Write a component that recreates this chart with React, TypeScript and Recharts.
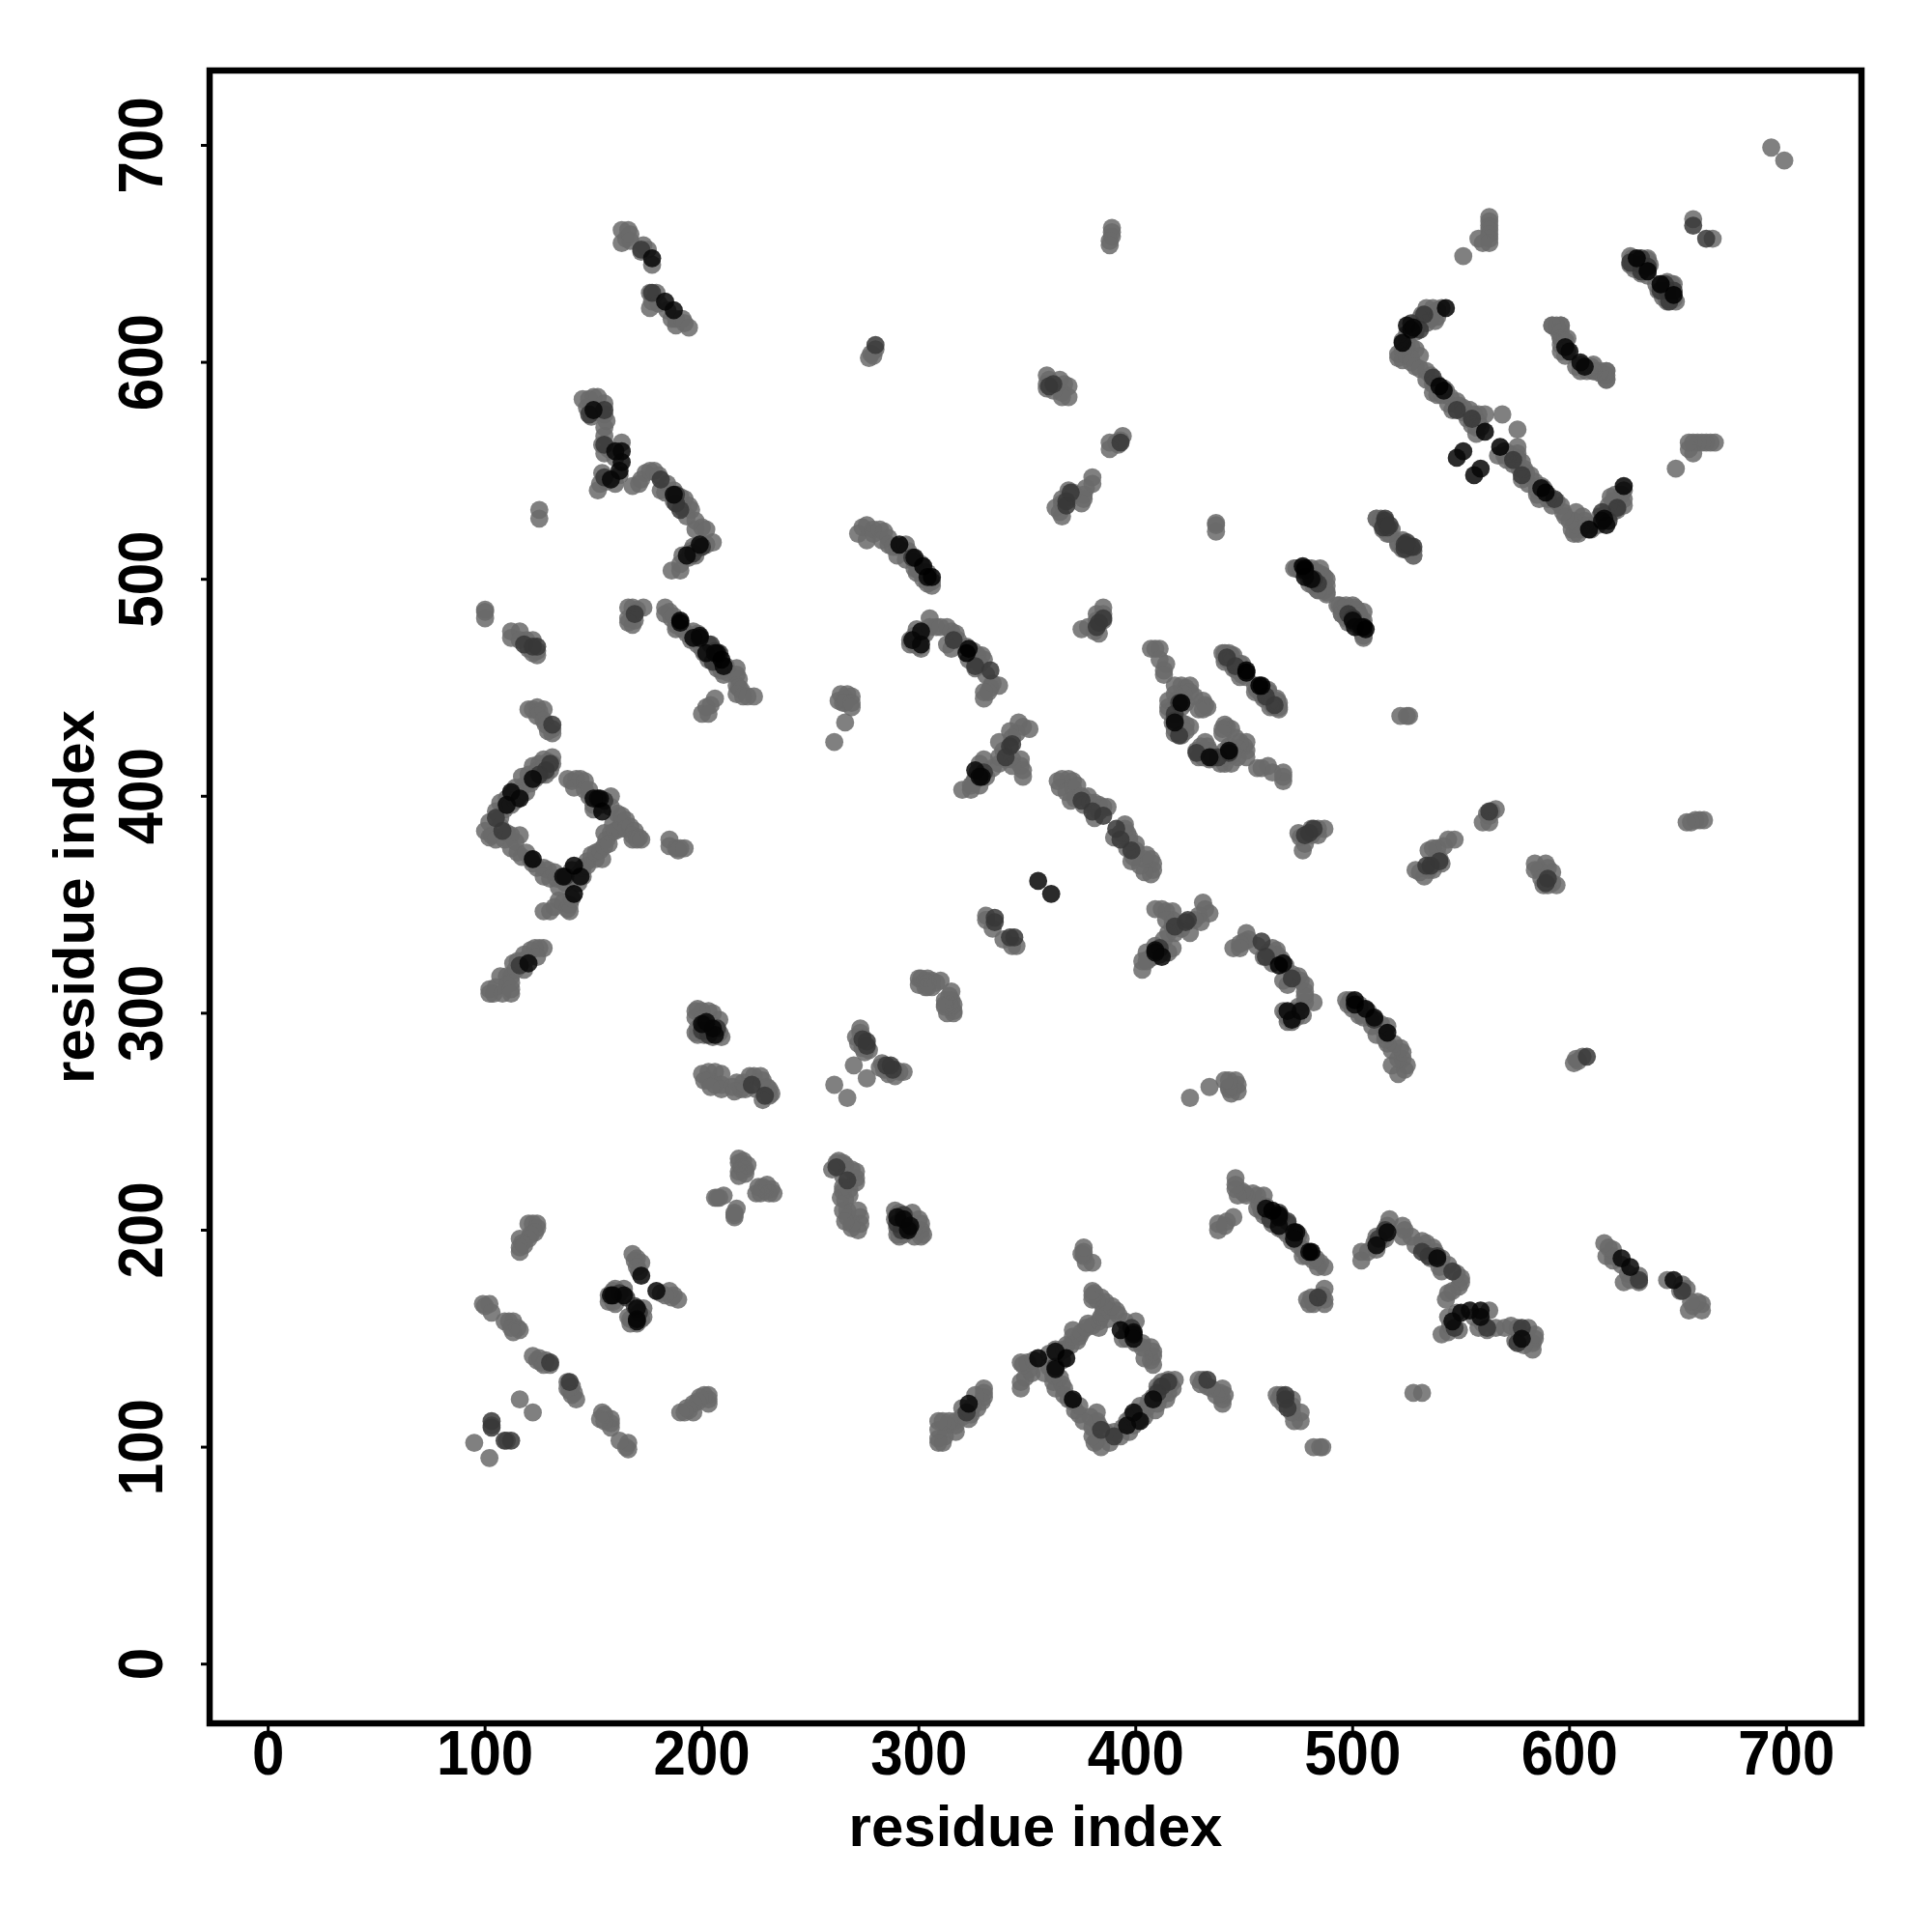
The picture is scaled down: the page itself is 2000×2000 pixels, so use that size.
import React from "react";
import { ScatterChart, Scatter, XAxis, YAxis, ReferenceArea } from "recharts";

type P = number[];
const xTicks = [0, 100, 200, 300, 400, 500, 600, 700];
const yTicks = [0, 100, 200, 300, 400, 500, 600, 700];
const axisTitle = "residue index";

// Contacts, as [i, j] with j > i. The map is symmetric, so each one is also drawn as [j, i].
// A contact listed more than once is a stronger one (drawn darker).
const c165_660: P[] = [[163,661],[166,661],[163,655],[165,657],[167,656],[167,659],[173,654],[172,651],[175,652],[177,648],[177,648],[177,648],[177,645]];
const c176_632: P[] = [[176,632],[179,632],[177,628],[176,625],[180,627],[183,628],[183,628],[183,628],[184,624],[187,624],[187,624],[187,624],[186,620],[188,620],[188,617],[191,620],[192,618],[194,616]];
const c280_608: P[] = [[280,608],[280,608],[280,606],[278,604],[277,602],[279,603]];
const c145_583: P[] = [[145,583],[148,583],[150,584],[152,584],[155,581],[147,579],[150,578],[149,575],[152,577],[155,576],[156,573],[155,570],[155,566],[154,562],[155,558],[157,560],[163,563],[163,559],[163,559],[163,559],[160,556],[163,554],[162,550],[162,548],[160,544],[155,547],[155,547],[153,544],[152,541],[156,545],[154,549]];
const c168_543: P[] = [[168,543],[171,544],[172,546],[174,549],[176,550],[178,550],[180,548],[181,546],[181,546],[181,541],[184,544],[183,540],[187,541],[188,539],[188,539],[187,536],[190,538],[192,537],[191,533],[194,534],[195,532],[193,529],[197,527],[197,523],[200,524],[202,523],[205,517],[202,516],[199,515],[196,515],[197,511],[194,510],[191,511],[190,507],[190,504],[186,504],[195,513]];
const c125_530: P[] = [[125,532],[125,528]];
const c100_484: P[] = [[100,486],[100,485],[100,482]];
const c112_474: P[] = [[112,476],[116,476],[112,473],[116,472],[119,472],[122,472],[120,468],[124,469],[124,469],[124,467],[124,465],[122,466]];
const c168_484: P[] = [[166,487],[168,487],[170,486],[173,487],[166,482],[169,484],[169,484],[169,481],[168,479],[166,480]];
const c183_487: P[] = [[183,487],[183,484],[185,485],[186,482],[187,483],[188,479],[190,481],[190,481],[190,481],[188,477],[191,477],[193,475],[196,476],[196,474],[198,475],[199,474],[199,474],[199,474],[195,472],[198,470],[200,468],[203,470],[204,470],[204,470],[206,467],[206,467],[208,466],[208,466],[201,466],[203,463],[205,462],[205,462],[207,462],[209,463],[209,463],[211,460],[207,459],[209,458],[210,456],[212,457],[216,459],[216,456],[217,454],[216,451],[217,450],[218,449],[216,447],[219,446],[221,446],[224,446],[206,445],[204,442],[202,441],[200,438],[203,438]];
const c120_440: P[] = [[120,440],[122,440],[124,441],[125,439],[127,440],[124,437],[127,435],[128,433],[131,433],[131,433],[131,431],[131,429],[129,430]];
const diamondUpperLeft: P[] = [[100,384],[102,388],[103,382],[105,393],[107,390],[107,397],[109,394],[110,399],[112,396],[112,401],[114,398],[114,404],[115,399],[116,401],[117,409],[118,405],[119,402],[120,410],[121,406],[122,414],[123,408],[124,412],[125,415],[126,410],[127,417],[127,413],[129,416],[131,418],[131,415],[130,412],[128,410]];
const diamondLowerLeft: P[] = [[102,381],[105,380],[107,386],[109,380],[110,383],[112,382],[114,379],[116,382],[112,376],[115,374],[117,372],[119,374],[121,371],[122,371],[122,369],[124,367],[127,367],[129,366],[127,363],[130,362],[133,362],[132,365],[134,358]];
const diamondLowerRight: P[] = [[127,347],[130,347],[132,349],[134,352],[136,351],[138,348],[139,347],[139,350],[140,353],[141,355],[141,355],[141,355],[137,360],[137,363],[137,363],[139,362],[140,366],[141,368],[141,368],[143,364],[143,360],[145,363],[145,367],[147,370],[147,368],[149,373],[151,371],[151,374],[153,375],[154,371],[155,377],[156,380],[155,383],[158,383],[157,378],[160,384],[159,387],[162,385]];
const diamondUpperRight: P[] = [[138,408],[140,407],[142,408],[144,408],[146,407],[141,404],[146,403],[148,400],[148,403],[150,396],[150,394],[152,399],[152,399],[152,399],[153,396],[154,393],[154,393],[155,398],[155,398],[158,400],[158,395],[161,392],[163,391],[163,388],[165,389],[165,385],[167,386],[168,382],[169,384],[171,381],[170,380],[168,380],[172,380]];
const c188_376: P[] = [[185,380],[185,377],[188,376],[190,376],[192,376],[189,375]];
const c115_320: P[] = [[127,330],[125,330],[123,330],[121,329],[124,326],[118,327],[120,323],[119,325],[115,324],[118,320],[113,323],[114,320],[110,317],[112,317],[107,317],[112,314],[110,313],[105,312],[102,311],[104,309],[108,309],[112,309],[102,309],[112,311]];
const c200_295: P[] = [[197,301],[198,302],[200,301],[203,301],[205,300],[197,298],[200,297],[201,295],[200,295],[201,295],[203,296],[208,297],[206,294],[198,293],[200,292],[200,292],[201,290],[203,290],[203,290],[205,289],[208,291],[209,289],[197,291],[198,290],[207,290],[204,295]];
const c215_267: P[] = [[200,272],[203,273],[206,273],[209,272],[201,269],[203,269],[206,267],[209,267],[209,265],[204,266],[214,266],[216,268],[218,265],[215,264],[220,265],[222,271],[224,271],[227,271],[223,267],[223,267],[225,265],[228,269],[230,266],[231,265],[232,263],[229,262],[229,262],[228,260],[231,262],[219,268]];
const c261_267: P[] = [[261,267]];
const c274_288: P[] = [[270,276],[273,293],[273,291],[271,289],[274,289],[272,286],[274,286],[276,284],[276,287],[276,287],[277,283],[275,282],[274,284],[276,285],[276,285]];
const c218_228: P[] = [[206,215],[208,215],[210,216],[207,215],[217,233],[219,232],[218,229],[219,229],[220,228],[217,227],[217,225],[220,226],[221,230],[217,231]];
const c120_198: P[] = [[120,203],[122,203],[124,203],[124,201],[123,199],[121,198],[120,196],[116,196],[117,194],[116,192],[116,190],[118,193]];
const c170_183: P[] = [[168,189],[169,186],[170,187],[172,185],[170,183],[172,179],[172,179],[172,179],[171,181]];
const c160_170: P[] = [[157,170],[157,167],[159,172],[160,173],[162,171],[162,171],[164,173],[165,169],[165,169],[160,166],[159,167]];
const c105_160: P[] = [[99,166],[100,165],[102,166],[103,162],[109,158],[111,158],[113,158],[115,155],[116,154],[113,153],[112,155]];
const c126_140: P[] = [[122,142],[125,141],[126,139],[128,140],[130,139],[130,139],[130,138],[124,140],[127,138]];
const c116_122: P[] = [[116,122]];
const c100_105: P[] = [[95,102],[103,112],[103,112],[103,110],[103,109],[103,109]];
const c389_658: P[] = [[389,662],[389,660],[389,658],[388,656],[388,654]];
const c362_590: P[] = [[359,594],[360,592],[359,590],[359,588],[361,589],[365,592],[367,590],[369,589],[366,586],[366,584],[369,584],[362,587]];
const c391_563: P[] = [[394,566],[393,564],[391,563],[392,562],[388,563],[388,560]];
const c372_538: P[] = [[380,547],[380,544],[377,542],[376,539],[376,537],[375,535],[371,540],[369,541],[370,538],[366,537],[366,535],[363,533],[365,531],[366,529],[368,534],[368,534]];
const c437_524: P[] = [[437,526],[437,525],[437,522]];
const c480_500: P[] = [[473,505],[476,505],[478,504],[478,504],[478,504],[481,505],[484,503],[480,501],[482,500],[482,500],[485,499],[487,501],[482,497],[484,495],[487,496],[488,494]];
const c500_482: P[] = [[493,488],[495,487],[497,488],[500,488],[502,486],[495,484],[498,484],[498,484],[500,482],[500,482],[498,480],[503,483],[505,485],[502,479],[505,479],[506,477],[506,477],[506,477],[505,474],[504,476]];
const c693_699: P[] = [[693,699]];
const c657_665: P[] = [[657,666],[657,663],[657,663]];
const c562_660: P[] = [[563,667],[563,665],[563,663],[563,661],[563,659],[563,657],[558,657],[560,655],[563,655],[551,649]];
const c635_642: P[] = [[628,649],[631,648],[633,648],[633,648],[636,648],[628,645],[631,644],[633,642],[633,642],[636,642],[637,645],[640,636],[642,636],[642,636],[645,636],[647,636],[647,634],[641,633],[643,630],[645,629],[648,629],[647,632],[645,633]];
const c600_605: P[] = [[592,617],[594,616],[596,617],[595,614],[596,611],[597,609],[599,611],[598,607],[600,605],[600,605],[600,605],[603,598],[605,599],[605,596],[608,596],[610,598],[611,596],[614,596],[617,596],[617,594],[617,592]];
const c530_615: P[] = [[543,625],[543,625],[541,625],[539,624],[537,625],[534,625],[539,621],[538,619],[536,620],[532,622],[531,620],[534,618],[530,617],[527,618],[527,618],[527,615],[529,614],[525,613],[525,610],[523,609],[523,610],[527,607],[525,607],[529,606],[523,605],[521,604],[521,602],[523,601],[525,603],[527,600],[531,603],[527,602]];
const c545_585: P[] = [[529,598],[531,597],[534,596],[534,592],[536,594],[537,590],[539,590],[540,589],[540,589],[542,588],[537,586],[539,585],[541,585],[543,587],[545,584],[544,581],[548,582],[546,578],[549,580],[551,579],[551,577],[554,578],[555,575],[553,574],[556,576],[558,576],[561,576],[555,571],[557,570],[558,572],[557,567],[561,568],[561,568],[561,568],[561,568],[559,570]];
const c569_576: P[] = [[569,576]];
const c549_557: P[] = [[548,556],[548,556],[548,556],[551,559],[551,559],[551,559]];
const c518_520: P[] = [[511,528],[513,528],[515,527],[515,527],[516,524],[514,523],[517,521],[523,518],[521,516],[524,516],[524,516],[528,515],[528,515],[526,513],[528,511]];
const c290_510: P[] = [[272,521],[274,524],[276,525],[279,523],[276,518],[279,521],[282,523],[284,522],[283,518],[286,519],[286,516],[288,515],[290,515],[290,511],[291,516],[291,516],[294,516],[295,513],[294,509],[297,510],[297,510],[298,508],[298,505],[301,507],[302,506],[302,506],[300,504],[303,503],[304,503],[306,501],[306,501],[306,499],[304,498],[306,497],[302,500],[299,503]];
const c315_465: P[] = [[296,472],[296,470],[298,474],[299,477],[298,470],[301,473],[300,469],[303,475],[301,468],[305,482],[305,478],[308,478],[310,478],[313,478],[315,476],[317,475],[318,472],[313,470],[315,468],[322,469],[322,466],[322,466],[323,463],[325,467],[327,465],[329,465],[330,463],[326,459],[328,461],[333,458],[333,458],[331,456],[334,452],[337,451],[333,450],[332,448],[330,445],[330,448]];
const c382_480: P[] = [[385,487],[385,484],[382,484],[382,481],[385,481],[375,477],[378,478],[381,476],[383,475],[382,478],[382,478]];
const c410_462: P[] = [[407,468],[409,468],[411,468],[411,463],[414,461],[413,458],[413,456]];
const c420_440: P[] = [[418,451],[421,451],[423,450],[425,451],[425,448],[427,446],[422,447],[420,445],[418,447],[415,444],[415,441],[415,439],[418,441],[419,444],[421,443],[421,441],[423,443],[431,444],[432,442],[433,441],[431,440],[429,440],[418,437],[417,434],[418,431],[418,429],[421,434],[423,433],[425,432],[423,430],[421,428],[420,443],[420,443],[418,435],[418,435],[420,428],[420,428]];
const c452_452: P[] = [[441,466],[443,466],[445,465],[442,463],[444,462],[446,459],[449,461],[447,458],[449,456],[451,458],[451,458],[451,458],[455,451],[457,451],[457,451],[455,448],[458,449],[461,448],[459,445],[462,444],[465,444],[464,441],[466,440],[462,441]];
const c375_400: P[] = [[364,407],[366,408],[369,408],[371,407],[365,404],[368,402],[371,404],[373,405],[370,398],[372,399],[375,400],[378,400],[376,396],[379,397],[381,397],[383,396],[383,393],[381,390],[385,395],[387,395],[385,391],[385,391]];
const c335_418: P[] = [[346,434],[348,432],[351,431],[345,429],[342,430],[343,427],[342,423],[342,423],[337,425],[339,421],[337,418],[340,417],[343,417],[347,417],[347,414],[348,412],[348,409],[343,414],[337,415],[334,413],[330,417],[328,415],[330,411],[330,411],[331,409],[327,411],[326,408],[325,406],[328,405],[320,403],[324,403],[324,405]];
const c355_361: P[] = [[355,361],[355,361],[355,361]];
const c333_343: P[] = [[331,345],[335,344],[335,344],[335,342],[335,342],[334,339],[331,343]];
const c304_314: P[] = [[300,316],[301,316],[300,313],[303,315],[304,316],[306,315],[308,314],[304,312],[306,312],[304,314],[303,312],[310,315]];
const c265_443: P[] = [[264,447],[267,447],[269,446],[263,444],[265,443],[266,443],[266,445],[269,441],[269,443],[266,434],[261,425]];

// Spots that read as near black and as mid grey in the reference.
const strongContacts: P[] = [[190,481],[199,473],[207,466],[209,463],[202,466],[196,473],[112,402],[110,396],[116,399],[122,408],[141,355],[136,363],[144,363],[141,368],[153,399],[150,399],[154,393],[122,371],[298,510],[302,506],[306,501],[291,516],[478,505],[478,501],[540,589],[561,568],[525,617],[543,625],[631,648],[642,636],[542,587],[528,616],[523,609],[506,477],[500,481],[322,466],[451,458],[457,451],[421,443],[418,434],[329,409],[326,412],[328,409],[323,468],[304,501],[301,470],[297,472],[301,476],[159,170],[164,170],[158,170],[205,293],[206,290],[202,296],[210,460],[206,466],[190,480],[199,516],[193,511],[160,559],[187,539],[158,546]];
const mediumContacts: P[] = [[155,578],[150,578],[148,576],[163,554],[162,550],[155,562],[177,632],[172,652],[190,532],[188,535],[200,515],[196,512],[118,470],[122,469],[105,390],[108,384],[128,412],[125,410],[130,415],[120,323],[116,322],[200,295],[203,292],[207,293],[274,288],[362,590],[360,589],[368,536],[370,540],[385,482],[383,480],[598,607],[533,622],[531,615],[537,593],[548,578],[555,574],[527,615],[442,464],[446,460],[418,438],[343,424],[340,418],[375,398],[380,393],[393,563],[326,460],[316,472],[636,644],[633,645],[514,524],[525,517],[628,646]];

const contacts: P[] = [
  c165_660, c176_632, c280_608, c145_583, c168_543, c125_530, c100_484, c112_474, c168_484, c183_487, c120_440,
  diamondUpperLeft, diamondLowerLeft, diamondLowerRight, diamondUpperRight, c188_376, c115_320, c200_295, c215_267,
  c261_267, c274_288, c218_228, c120_198, c170_183, c160_170, c105_160, c126_140, c116_122, c100_105, c389_658,
  c362_590, c391_563, c372_538, c437_524, c480_500, c500_482, c693_699, c657_665, c562_660, c635_642, c600_605,
  c530_615, c545_585, c569_576, c549_557, c518_520, c290_510, c315_465, c382_480, c410_462, c420_440, c452_452,
  c375_400, c335_418, c355_361, c333_343, c304_314, c265_443,
  mediumContacts, mediumContacts, strongContacts, strongContacts, strongContacts,
].flat();

const strength = new Map<string, number>();
contacts.forEach(([i, j]) => strength.set(`${i},${j}`, (strength.get(`${i},${j}`) || 0) + 1));
const table = [...strength.entries()]
  .flatMap(([key, n]) => {
    const [i, j] = key.split(",").map(Number);
    return [{ x: i, y: j, n }, { x: j, y: i, n }];
  })
  .sort((a, b) => a.n - b.n);

const FONT = "'Liberation Sans', Arial, sans-serif";
const xMin = -27, xMax = 734.6, yMin = -27.3, yMax = 734.5;
const grays = ["#6a6a6a", "#6a6a6a", "#373737", "#060606", "#000000"];

const Dot = (p: any) => <circle cx={p.cx} cy={p.cy} r={9.4} fill={grays[Math.min(p.payload.n, 4)]} fillOpacity={0.85} />;

const XTick = ({ x, y, payload }: any) => (
  <text transform={`translate(${x},${y + 42}) scale(1,1.08)`} textAnchor="middle" fontFamily={FONT} fontWeight={700} fontSize={60} fill="#000">{payload.value}</text>
);
const YTick = ({ x, y, payload }: any) => (
  <text transform={`translate(${x - 38},${y}) rotate(-90) scale(1,1.08)`} textAnchor="middle" fontFamily={FONT} fontWeight={700} fontSize={60} fill="#000">{payload.value}</text>
);

export default function App() {
  return (
    <div style={{ position: "absolute", left: 0, top: 0, width: 2000, height: 2000, background: "#fff" }}>
      <ScatterChart width={2000} height={2000} margin={{ left: 0, right: 73, top: 73, bottom: 0 }}>
        <XAxis
          type="number" dataKey="x" domain={[xMin, xMax]} ticks={xTicks} allowDataOverflow
          height={216} tickSize={9} axisLine={false} tickLine={{ stroke: "#000", strokeWidth: 3 }} tick={<XTick />}
          label={{ value: axisTitle, position: "insideBottom", offset: 89, fontFamily: FONT, fontWeight: 700, fontSize: 60, fill: "#000" }}
        />
        <YAxis
          type="number" dataKey="y" domain={[yMin, yMax]} ticks={yTicks} allowDataOverflow
          width={217} tickSize={9} axisLine={false} tickLine={{ stroke: "#000", strokeWidth: 3 }} tick={<YTick />}
          label={{ value: axisTitle, angle: -90, position: "insideLeft", offset: 76, fontFamily: FONT, fontWeight: 700, fontSize: 60, fill: "#000", style: { textAnchor: "middle" } }}
        />
        <Scatter data={table} isAnimationActive={false} shape={<Dot />} />
        <ReferenceArea x1={xMin} x2={xMax} y1={yMin} y2={yMax} fill="none" stroke="#000" strokeWidth={6.5} ifOverflow="visible" />
      </ScatterChart>
    </div>
  );
}
